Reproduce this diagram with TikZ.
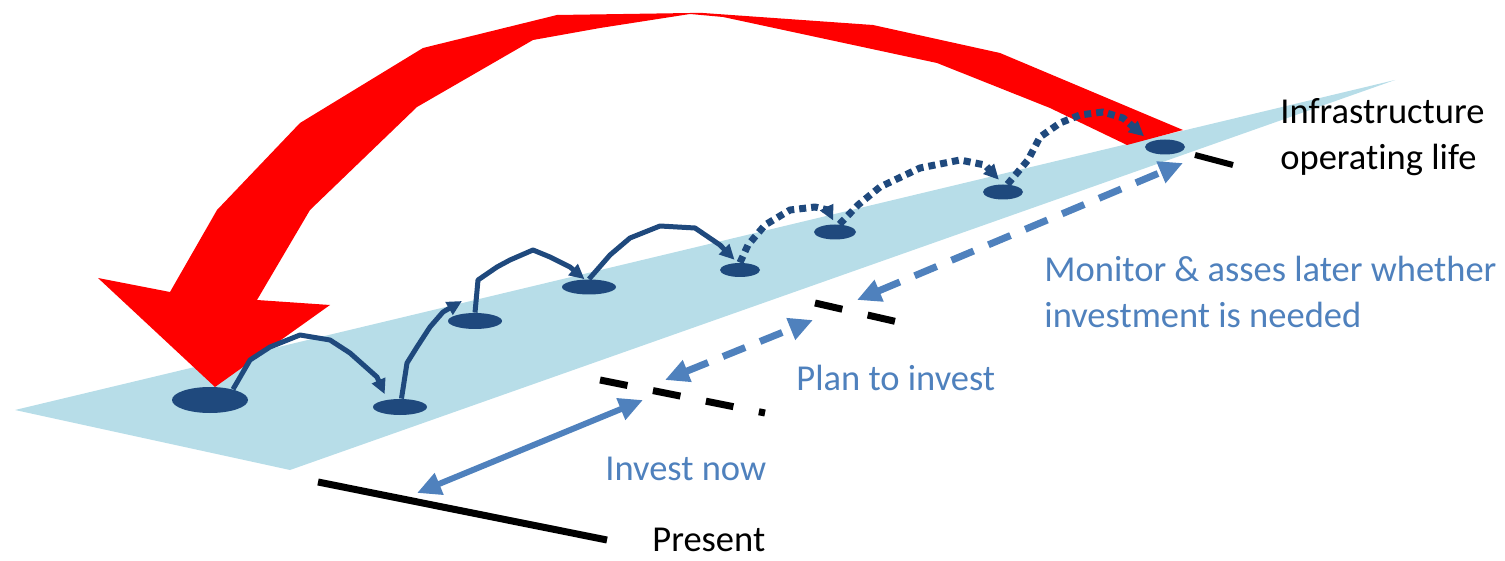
\documentclass[tikz,border=0pt]{standalone}
\usepackage{fontspec}
\setmainfont{Carlito}[Ligatures=NoCommon]
\usetikzlibrary{arrows.meta,shapes.geometric}
\definecolor{bandblue}{RGB}{183,221,232}
\definecolor{siteblue}{RGB}{31,73,125}
\definecolor{spanblue}{RGB}{79,129,189}
\definecolor{bigred}{RGB}{255,0,0}

\begin{document}
\begin{tikzpicture}[x=0.5pt, y=-0.5pt,
    site/.style={ellipse, fill=siteblue, inner sep=0pt, minimum width=27pt, minimum height=8pt},
    jump/.style={draw=siteblue, line width=2.5pt, line join=round, -{Triangle[length=7.5pt,width=7pt]}},
    later/.style={jump, line width=3.5pt, dash pattern=on 3.5pt off 2.5pt},
    span/.style={draw=spanblue, line width=3pt, {Triangle[length=12pt,width=11pt]}-{Triangle[length=12pt,width=11pt]}},
    spandash/.style={span, line width=3.5pt, dash pattern=on 12pt off 8pt},
    marker/.style={draw=black, line width=3.5pt},
    lbl/.style={anchor=base west, inner sep=0pt, align=left, font=\fontsize{18.25}{23}\selectfont}]
    \useasboundingbox (0,0) rectangle (1505,561);

    \fill[bandblue] (15,410) -- (290,470) -- (1395,80) -- cycle;

    \fill[bigred] (690,13) -- (557,15) -- (423,48) -- (300,123) -- (217,210) -- (170,292)
        -- (98,278) -- (215,387) -- (330,305) -- (257,300) -- (310,210) -- (417,107)
        -- (533,40) -- (600,28) -- (690,14) -- (723,17) -- (937,63) -- (1050,108)
        -- (1127,145) -- (1183,130) -- (1000,53) -- (873,25) -- (703,13) -- cycle;

    \draw[marker] (318,482) -- (607,540);
    \draw[marker, dash pattern=on 14pt off 13pt] (600,380) -- (765,413);
    \draw[marker, dash pattern=on 14pt off 13pt] (815,303) -- (898,322);
    \draw[marker, line width=3pt] (1195,155) -- (1233,165);

    \coordinate (nowlo) at (417,493);
    \coordinate (nowhi) at (643,400);
    \coordinate (planlo) at (665,380);
    \coordinate (planhi) at (813,320);
    \coordinate (monlo) at (857,300);
    \coordinate (monhi) at (1183,163);
    \draw[span] (nowlo) -- (nowhi);
    \draw[spandash] (planlo) -- (planhi);
    \draw[spandash] (monlo) -- (monhi);

    \node[site, minimum width=38pt, minimum height=13pt] (s1) at (210,400) {};
    \node[site] (s2) at (400,407) {};
    \node[site] (s3) at (475,321) {};
    \node[site, minimum height=7.5pt] (s4) at (589,287) {};
    \node[site, minimum width=20pt, minimum height=7pt] (s5) at (740,270) {};
    \node[site, minimum width=21pt, minimum height=7.5pt] (s6) at (835,232) {};
    \node[site, minimum width=20pt, minimum height=7.5pt] (s7) at (1003,192) {};
    \node[site, minimum width=20pt, minimum height=7.5pt] (s8) at (1165,147) {};
    \coordinate (s3hop) at (462,301);

    \draw[jump, shorten >=3pt] (s1.25) -- (250,360) -- (270,347) -- (300,335) -- (330,340)
        -- (350,353) -- (377,377) -- (s2.150);
    \draw[jump] (s2.80) -- (407,363) -- (417,347) -- (430,327) -- (443,312) -- (s3hop);
    \draw[jump] (s3.north) -- (478,280) -- (497,267) -- (510,260) -- (533,250) -- (550,257)
        -- (570,267) -- (s4.120);
    \draw[jump, shorten >=2pt] (s4.north) -- (610,255) -- (630,238) -- (660,226) -- (695,228)
        -- (720,245) -- (s5.110);
    \draw[later, shorten >=2pt] (s5.north) -- (748,245) -- (765,225) -- (790,210) -- (815,207)
        -- (828,210) -- (s6.north);
    \draw[later, shorten >=3pt] (s6.60) -- (858,205) -- (880,187) -- (920,168) -- (960,160)
        -- (985,165) -- (s7.north);
    \draw[later, shorten >=4pt] (s7.60) -- (1028,160) -- (1040,137) -- (1060,123) -- (1080,115)
        -- (1103,112) -- (1123,118) -- (s8.160);

    \node[lbl] (present) at (652,551) {Present};
    \node[lbl, text=spanblue] (now) at (605,480) {Invest now};
    \node[lbl, text=spanblue] (plan) at (796,390) {Plan to invest};
    \node[lbl, text=spanblue] (monitor) at (1044,328) {Monitor \& asses later whether\\investment is needed};
    \node[lbl] (life) at (1280,170) {Infrastructure\\operating life};
\end{tikzpicture}
\end{document}
